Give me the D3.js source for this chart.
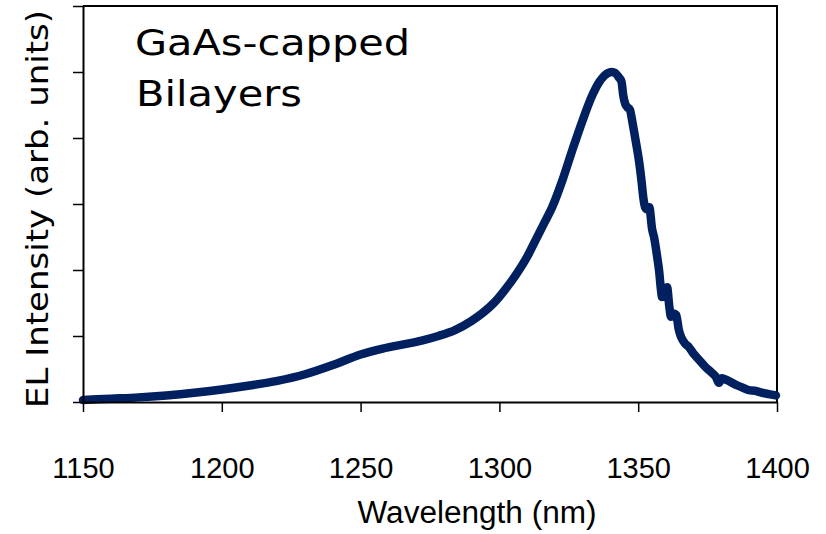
<!DOCTYPE html>
<html>
<head>
<meta charset="utf-8">
<script src="https://cdn.jsdelivr.net/npm/d3@7"></script>
<style>
  html, body { margin: 0; padding: 0; background: #fff; }
  svg { display: block; }
</style>
</head>
<body>
<svg id="chart" width="826" height="534"></svg>
<script>
// Electroluminescence spectrum: wavelength (nm) and intensity (arb. units)
const wavelength = [
  1150, 1160, 1170, 1180, 1190, 1200, 1210, 1220, 1230, 1240,
  1250, 1258, 1265, 1272, 1278, 1284, 1290, 1294, 1298, 1302,
  1306, 1310, 1313, 1316, 1319, 1322.7, 1326.3,
  1330, 1333.5, 1336, 1337.5, 1339, 1340.3, 1341.5, 1343, 1344, 1344.6,
  1345.3, 1346, 1347, 1348, 1349, 1350.4, 1351.2, 1351.8, 1352.5, 1353.2,
  1354, 1355, 1355.7, 1357, 1357.5, 1358.2, 1358.6, 1359.5, 1360.4, 1361.2,
  1361.8, 1362.8, 1363.7, 1364.6, 1365.5, 1367, 1368.3, 1370, 1371.9, 1374,
  1376.6, 1378, 1379.1, 1380.2, 1382, 1385.2, 1387, 1389.9, 1392, 1394.6,
  1397, 1399.6
];
const intensity = [
  0.03, 0.05, 0.07, 0.10, 0.14, 0.19, 0.25, 0.32, 0.42, 0.56,
  0.72, 0.81, 0.87, 0.93, 1.00, 1.09, 1.23, 1.35, 1.50, 1.70,
  1.93, 2.20, 2.45, 2.70, 2.95, 3.36, 3.82,
  4.27, 4.65, 4.85, 4.93, 4.98, 5.00, 4.99, 4.92, 4.85, 4.65,
  4.52, 4.47, 4.43, 4.22, 3.98, 3.62, 3.35, 3.11, 2.95, 2.92,
  2.95, 2.62, 2.50, 2.15, 2.00, 1.70, 1.59, 1.72, 1.74, 1.45,
  1.29, 1.34, 1.32, 1.10, 0.98, 0.88, 0.83, 0.73, 0.64, 0.54,
  0.44, 0.38, 0.29, 0.36, 0.33, 0.26, 0.23, 0.18, 0.17, 0.14,
  0.12, 0.10
];
const xTicks = [1150, 1200, 1250, 1300, 1350, 1400];
const yTicks = [0, 1, 2, 3, 4, 5, 6];

const svg = d3.select("#chart");
const plot = { left: 83, right: 777, top: 6, bottom: 402 };

const x = d3.scaleLinear().domain([1150, 1400]).range([plot.left, plot.right]);
const y = d3.scaleLinear().domain([0, 6]).range([plot.bottom, plot.top]);

// Frame (top and right edges)
svg.append("path")
  .attr("d", `M${plot.left},${plot.top}H${plot.right}V${plot.bottom}`)
  .attr("fill", "none").attr("stroke", "#000").attr("stroke-width", 2);

// Spectrum
const line = d3.line()
  .x((d, i) => x(wavelength[i]))
  .y(d => y(d))
  .curve(d3.curveMonotoneX);

svg.append("path")
  .datum(intensity)
  .attr("d", line)
  .attr("fill", "none")
  .attr("stroke", "#002060")
  .attr("stroke-width", 8.5)
  .attr("stroke-linejoin", "round")
  .attr("stroke-linecap", "round");

// Bottom axis
const gx = svg.append("g")
  .attr("transform", `translate(0,${plot.bottom})`)
  .call(d3.axisBottom(x).tickValues(xTicks).tickSize(10).tickSizeOuter(0).tickFormat(d3.format("d")));
gx.select(".domain").attr("stroke-width", 2);
gx.selectAll(".tick line").attr("stroke-width", 1.5);
gx.selectAll(".tick text")
  .attr("y", 76).attr("dy", 0)
  .attr("font-family", "'Liberation Sans', Arial, sans-serif")
  .attr("font-size", 29)
  .attr("fill", "#000");

// Left axis
const gy = svg.append("g")
  .attr("transform", `translate(${plot.left},0)`)
  .call(d3.axisLeft(y).tickValues(yTicks).tickSize(10).tickSizeOuter(0).tickFormat(""));
gy.select(".domain").attr("stroke-width", 2);
gy.selectAll(".tick line").attr("stroke-width", 1.5);

// Axis titles
svg.append("text")
  .attr("x", 477).attr("y", 523)
  .attr("text-anchor", "middle")
  .attr("font-family", "'Liberation Sans', Arial, sans-serif")
  .attr("font-size", 31)
  .attr("textLength", 239).attr("lengthAdjust", "spacingAndGlyphs")
  .text("Wavelength (nm)");

svg.append("text")
  .attr("transform", "translate(48,209) rotate(-90)")
  .attr("text-anchor", "middle")
  .attr("font-family", "'DejaVu Sans', Verdana, sans-serif")
  .attr("font-size", 31)
  .attr("textLength", 398).attr("lengthAdjust", "spacingAndGlyphs")
  .text("EL Intensity (arb. units)");

// Sample annotation
const note = svg.append("g")
  .attr("font-family", "'DejaVu Sans', Verdana, sans-serif")
  .attr("font-size", 36);
note.append("text").attr("x", 135).attr("y", 55)
  .attr("textLength", 275).attr("lengthAdjust", "spacingAndGlyphs")
  .text("GaAs-capped");
note.append("text").attr("x", 136).attr("y", 106)
  .attr("textLength", 166).attr("lengthAdjust", "spacingAndGlyphs")
  .text("Bilayers");
</script>
</body>
</html>
